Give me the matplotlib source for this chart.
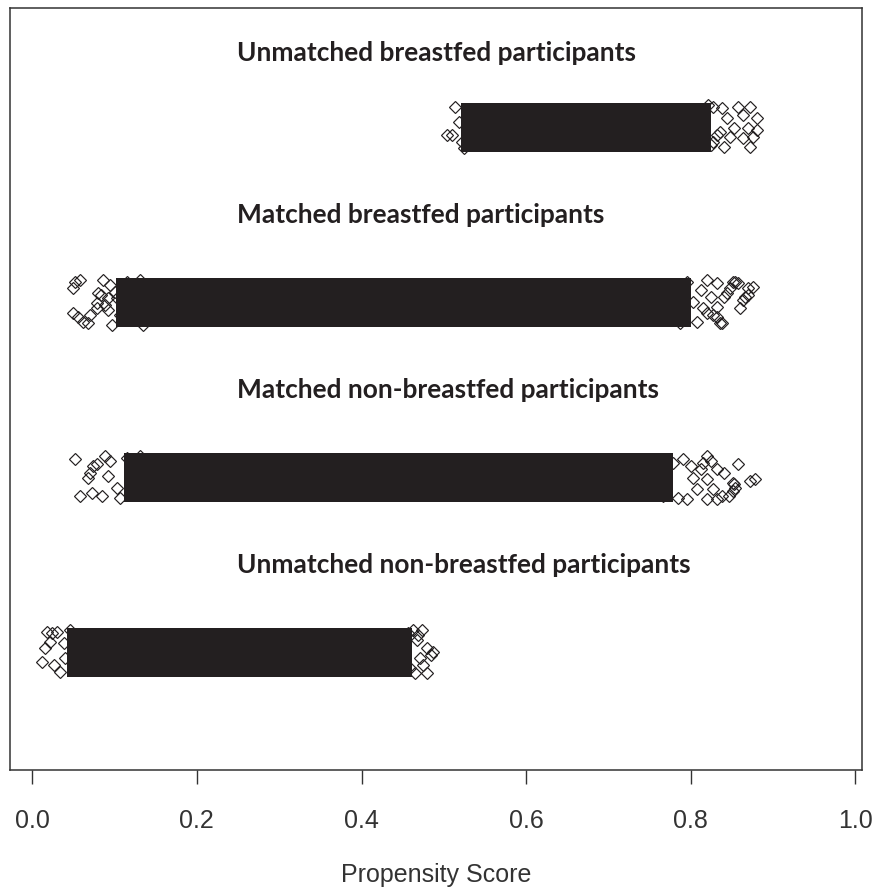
import matplotlib
matplotlib.use("Agg")
import matplotlib.pyplot as plt

# ---------------- data ----------------
group_labels = [
    "Unmatched breastfed participants",
    "Matched breastfed participants",
    "Matched non-breastfed participants",
    "Unmatched non-breastfed participants",
]
row_pos = [4, 3, 2, 1]
label_y = [4.423, 3.497, 2.497, 1.497]

# dense (fully overlapping) part of each jittered strip
core_start = [0.521, 0.102, 0.112, 0.042]
core_end = [0.824, 0.800, 0.778, 0.461]

# individually visible points at the strip edges: score, vertical jitter
row1_x = [0.504, 0.510, 0.514, 0.518, 0.522, 0.524,
          0.821, 0.827, 0.838, 0.844, 0.857, 0.863, 0.872, 0.881, 0.852, 0.869,
          0.881, 0.836, 0.848, 0.863, 0.872, 0.827, 0.840, 0.876, 0.824, 0.832]
row1_j = [-0.046, -0.046, 0.114, 0.029, -0.086, -0.120,
          0.126, 0.114, 0.109, 0.051, 0.114, 0.069, 0.114, 0.051, -0.006, -0.006,
          -0.017, -0.029, -0.057, -0.063, -0.114, -0.086, -0.114, -0.057, -0.103, -0.046]

row2_x = [0.050, 0.052, 0.058, 0.050, 0.056, 0.062, 0.070, 0.068, 0.079, 0.080,
          0.083, 0.079, 0.086, 0.089, 0.092, 0.092, 0.095, 0.097, 0.103, 0.107,
          0.115, 0.123, 0.119, 0.128, 0.131, 0.140, 0.143, 0.135, 0.152, 0.109,
          0.101, 0.113,
          0.820, 0.812, 0.832, 0.840, 0.848, 0.854, 0.844, 0.869, 0.875, 0.866,
          0.860, 0.836, 0.827, 0.815, 0.803, 0.791, 0.784, 0.772, 0.775, 0.796,
          0.808, 0.787, 0.767, 0.851, 0.857, 0.870, 0.864, 0.824, 0.832, 0.820,
          0.832, 0.838, 0.791]
row2_j = [0.080, 0.114, 0.126, -0.063, -0.086, -0.114, -0.074, -0.120, -0.006, 0.051,
          0.040, -0.034, 0.126, -0.017, 0.023, -0.046, 0.097, -0.131, 0.023, -0.074,
          0.114, 0.080, -0.034, -0.103, 0.126, 0.023, -0.057, -0.131, 0.097, 0.011,
          0.057, -0.103,
          0.126, 0.069, 0.109, 0.029, 0.080, 0.114, 0.051, 0.080, 0.086, 0.029,
          -0.034, -0.120, -0.074, -0.034, 0.000, -0.074, -0.034, 0.023, 0.097, 0.114,
          -0.114, -0.120, -0.091, 0.114, 0.109, 0.040, 0.011, 0.029, -0.029, -0.063,
          -0.086, -0.120, 0.011]

row3_x = [0.052, 0.074, 0.079, 0.068, 0.070, 0.058, 0.073, 0.085, 0.089, 0.095,
          0.092, 0.103, 0.107, 0.115, 0.123, 0.119, 0.131, 0.140, 0.135, 0.143,
          0.152,
          0.779, 0.790, 0.800, 0.815, 0.824, 0.832, 0.840, 0.857, 0.851, 0.854,
          0.872, 0.878, 0.846, 0.838, 0.827, 0.820, 0.808, 0.796, 0.784, 0.803,
          0.820, 0.812, 0.852, 0.851, 0.832, 0.820, 0.733, 0.751, 0.761, 0.745,
          0.766, 0.757]
row3_j = [0.103, 0.063, 0.074, -0.006, 0.023, -0.109, -0.091, -0.109, 0.120, 0.091,
          0.006, -0.063, -0.120, 0.109, 0.034, -0.034, 0.120, 0.063, -0.097, -0.006,
          -0.080,
          0.080, 0.103, 0.063, 0.080, 0.091, 0.046, 0.023, 0.074, -0.034, -0.063,
          -0.023, -0.011, -0.109, -0.109, -0.069, -0.126, -0.069, -0.126, -0.120, -0.006,
          -0.011, 0.046, -0.040, -0.080, -0.126, 0.120, -0.097, 0.034, -0.051, 0.103,
          -0.109, 0.080]

row4_x = [0.018, 0.024, 0.030, 0.016, 0.012, 0.026, 0.034, 0.038, 0.046, 0.040,
          0.022, 0.049, 0.052,
          0.463, 0.474, 0.468, 0.480, 0.484, 0.471, 0.475, 0.480, 0.465, 0.459,
          0.456, 0.469, 0.487]
row4_j = [0.114, 0.109, 0.114, 0.023, -0.057, -0.074, -0.114, 0.051, 0.126, -0.034,
          0.057, -0.091, 0.011,
          0.126, 0.126, 0.069, 0.023, -0.017, -0.034, -0.074, -0.120, -0.120, -0.091,
          0.109, 0.097, 0.000]

edge_x = [row1_x, row2_x, row3_x, row4_x]
edge_j = [row1_j, row2_j, row3_j, row4_j]

x_ticks = [0.0, 0.2, 0.4, 0.6, 0.8, 1.0]
x_tick_labels = ["0.0", "0.2", "0.4", "0.6", "0.8", "1.0"]
x_label = "Propensity Score"

# ---------------- drawing ----------------
INK = "#231f20"
W, H = 874, 892
fig = plt.figure(figsize=(W / 100, H / 100), dpi=100)
ax = fig.add_axes([10 / W, (H - 770) / H, 852 / W, 762 / H])

for i in range(len(group_labels)):
    y0 = row_pos[i]
    ax.barh(y0, core_end[i] - core_start[i], left=core_start[i], height=0.28,
            color=INK, edgecolor="none", zorder=2)
    ys = [y0 + j for j in edge_j[i]]
    ax.plot(edge_x[i], ys, linestyle="none", marker="D", markersize=5.8,
            markerfacecolor="none", markeredgecolor=INK, markeredgewidth=0.85,
            zorder=3)
    ax.text(0.249, label_y[i], group_labels[i], ha="left", va="center",
            fontsize=18.9, fontweight="bold", family=["Lato", "DejaVu Sans"],
            color=INK)

ax.set_xlim(-0.027, 1.008)
ax.set_ylim(0.326, 4.68)
ax.set_yticks([])
ax.set_xticks(x_ticks)
ax.set_xticklabels(x_tick_labels, family=["Liberation Sans", "DejaVu Sans"],
                   fontsize=18, color="#333333")
ax.tick_params(axis="x", length=10, width=1.0, color="#333333", pad=18)
ax.set_xlabel(x_label, family=["Liberation Sans", "DejaVu Sans"], fontsize=18,
              color="#333333", labelpad=22)
for s in ax.spines.values():
    s.set_linewidth(1.1)
    s.set_color("#333333")

fig.savefig("out.png", dpi=100)
